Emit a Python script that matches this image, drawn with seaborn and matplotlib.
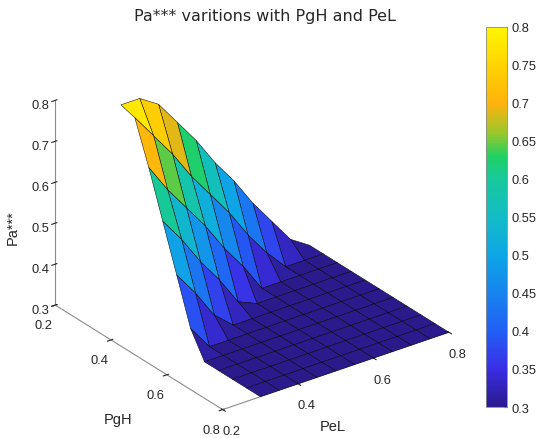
import numpy as np
import matplotlib
matplotlib.use("Agg")
import matplotlib.pyplot as plt
from matplotlib.colors import LinearSegmentedColormap
import seaborn as sns

# grid positions
pgh_values = [0.30, 0.35, 0.40, 0.45, 0.50, 0.55, 0.60, 0.65, 0.70, 0.75, 0.80]
pel_values = [0.30, 0.35, 0.40, 0.45, 0.50, 0.55, 0.60, 0.65, 0.70, 0.75, 0.80]

# Pa*** read from the surface, one row per PgH value (columns = PeL)
pa_rows = [
    [0.80, 0.80, 0.77, 0.71, 0.65, 0.58, 0.52, 0.45, 0.39, 0.33, 0.30],
    [0.79, 0.73, 0.67, 0.60, 0.54, 0.48, 0.41, 0.35, 0.30, 0.30, 0.30],
    [0.69, 0.62, 0.56, 0.50, 0.43, 0.37, 0.30, 0.30, 0.30, 0.30, 0.30],
    [0.58, 0.52, 0.45, 0.39, 0.32, 0.30, 0.30, 0.30, 0.30, 0.30, 0.30],
    [0.47, 0.41, 0.34, 0.30, 0.30, 0.30, 0.30, 0.30, 0.30, 0.30, 0.30],
    [0.36, 0.30, 0.30, 0.30, 0.30, 0.30, 0.30, 0.30, 0.30, 0.30, 0.30],
    [0.30, 0.30, 0.30, 0.30, 0.30, 0.30, 0.30, 0.30, 0.30, 0.30, 0.30],
    [0.30, 0.30, 0.30, 0.30, 0.30, 0.30, 0.30, 0.30, 0.30, 0.30, 0.30],
    [0.30, 0.30, 0.30, 0.30, 0.30, 0.30, 0.30, 0.30, 0.30, 0.30, 0.30],
    [0.30, 0.30, 0.30, 0.30, 0.30, 0.30, 0.30, 0.30, 0.30, 0.30, 0.30],
    [0.30, 0.30, 0.30, 0.30, 0.30, 0.30, 0.30, 0.30, 0.30, 0.30, 0.30],
]

axis_ticks = [0.2, 0.4, 0.6, 0.8]
z_ticks = [0.3, 0.4, 0.5, 0.6, 0.7, 0.8]
cbar_ticks = [0.3, 0.35, 0.4, 0.45, 0.5, 0.55, 0.6, 0.65, 0.7, 0.75, 0.8]

# parula-like colours sampled from the colorbar
parula_like = LinearSegmentedColormap.from_list("parula_like", [
    (0.00, "#2a1a8c"),
    (0.10, "#3a2ee6"),
    (0.20, "#2160f5"),
    (0.30, "#1784ee"),
    (0.40, "#0ea6e6"),
    (0.50, "#12bcc6"),
    (0.60, "#17c99c"),
    (0.66, "#1fd062"),
    (0.72, "#98c82c"),
    (0.80, "#ffb20c"),
    (0.90, "#ffd300"),
    (1.00, "#fff500"),
])

sns.set_style("white")
plt.rcParams["font.family"] = ["Liberation Sans", "DejaVu Sans"]

X, Y = np.meshgrid(pgh_values, pel_values, indexing="ij")
Z = np.array(pa_rows)

fig = plt.figure(figsize=(5.5, 4.39), dpi=100)
ax = fig.add_axes([0.008, 0.012, 0.88, 0.96], projection="3d")
ax.set_proj_type("ortho")

surf = ax.plot_surface(X, Y, Z, cmap=parula_like, vmin=0.3, vmax=0.8,
                       rstride=1, cstride=1, edgecolor="black",
                       linewidth=0.35, shade=False, antialiased=True)

ax.view_init(elev=27.5, azim=-36.5)
ax.set_box_aspect((1, 1, 0.82), zoom=1.06)
ax.set_xlim(0.2, 0.8)
ax.set_ylim(0.2, 0.8)
ax.set_zlim(0.3, 0.8)
ax.set_xticks(axis_ticks)
ax.set_yticks(axis_ticks)
ax.set_zticks(z_ticks)
ax.set_xticklabels(["0.2", "0.4", "0.6", "0.8"])
ax.set_yticklabels(["0.2", "0.4", "0.6", "0.8"])
ax.set_zticklabels(["0.3", "0.4", "0.5", "0.6", "0.7", "0.8"])
ax.tick_params(labelsize=9.3, colors="#262626", pad=0)
ax.zaxis.set_tick_params(pad=-2)
ax.zaxis.set_ticks_position("lower")

ax.grid(False)
for axis in (ax.xaxis, ax.yaxis, ax.zaxis):
    axis.pane.fill = False
    axis.pane.set_edgecolor("none")
    axis.line.set_color("#8c8c8c")
    axis.line.set_linewidth(0.8)

# axis labels placed where the reference puts them
fig.text(118 / 550, 1 - 420 / 439, "PgH", ha="center", va="center",
         fontsize=10.5, color="#262626")
fig.text(333 / 550, 1 - 427 / 439, "PeL", ha="center", va="center",
         fontsize=10.5, color="#262626")
fig.text(13 / 550, 1 - 228 / 439, "Pa***", ha="center", va="center",
         rotation=90, fontsize=10.5, color="#262626")

fig.text(0.482, 0.963, "Pa*** varitions with PgH and PeL", ha="center",
         va="center", fontsize=11.5, family="DejaVu Sans", color="#262626")

cax = fig.add_axes([0.884, 0.0706, 0.038, 0.866])
cb = fig.colorbar(surf, cax=cax, ticks=cbar_ticks)
cb.ax.set_yticklabels(["0.3", "0.35", "0.4", "0.45", "0.5", "0.55", "0.6",
                       "0.65", "0.7", "0.75", "0.8"])
cb.ax.tick_params(labelsize=9.3, length=2, direction="in", colors="#262626")
cb.outline.set_edgecolor("#8c8c8c")
cb.outline.set_linewidth(0.6)

fig.savefig("out.png", dpi=100)
